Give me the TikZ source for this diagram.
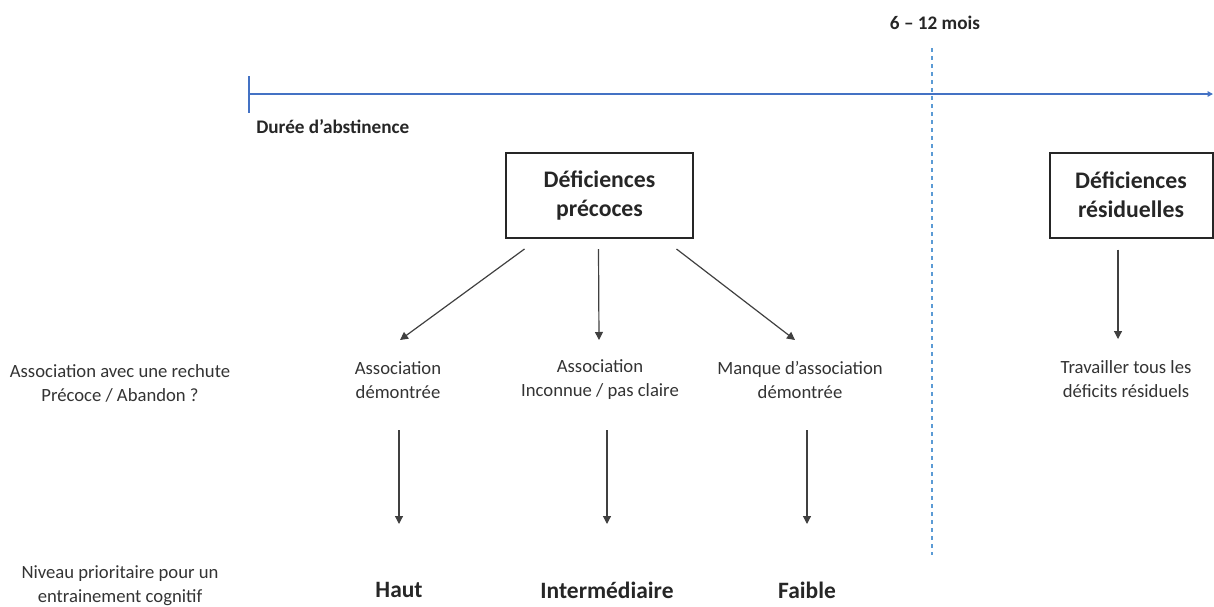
\documentclass[tikz,border=0pt]{standalone}
\usepackage{fontspec}
\setmainfont{Carlito}
\usetikzlibrary{arrows.meta,calc}

\definecolor{axeblue}{RGB}{68,114,196}
\definecolor{lightblue}{RGB}{91,155,213}

\begin{document}
\begin{tikzpicture}[x=0.75pt, y=-0.75pt,
	every node/.style={font=\fontsize{14}{18}\selectfont, text=black!80, align=center, inner sep=0pt},
	titre/.style={font=\fontsize{14.4}{17}\selectfont\bfseries, text=black!85},
	boite/.style={draw=black!85, line width=1.5pt, minimum height=63.75pt, font=\fontsize{17.8}{22}\selectfont\bfseries, text=black!85},
	niveau/.style={font=\fontsize{17.6}{21}\selectfont\bfseries, text=black!85},
	fleche/.style={-{Triangle[length=6pt,width=6pt]}, line width=0.9pt, draw=black!75}]
	\useasboundingbox (0,0) rectangle (1214,607);
	% axe du temps
	\coordinate (t0) at (249,94);
	\coordinate (t1) at (1213,94);
	\coordinate (d0) at (932,48);
	\coordinate (d1) at (932,555);
	\draw[axeblue, line width=1.3pt, -{Triangle[length=4pt,width=4pt]}] (t0) -- (t1);
	\draw[axeblue, line width=1pt] ($(t0)+(0,-18)$) -- ($(t0)+(0,19)$);
	\draw[lightblue, line width=0.8pt, dash pattern=on 3pt off 3pt] (d0) -- (d1);
	\node[titre] (mois) at (935,23) {6 – 12 mois};
	\node[titre, anchor=west] (duree) at (256,127) {Durée d’abstinence};
	% boites
	\node[boite, minimum width=140.25pt] (pre) at (599.5,195.5) {Déficiences\\précoces};
	\node[boite, minimum width=122.25pt] (res) at (1131,195) {Déficiences\\résiduelles};
	% association
	\node (q) at (120,383) {Association avec une rechute\\Précoce / Abandon ?};
	\node (a1) at (398,380) {Association\\démontrée};
	\node (a2) at (600,380) {Association\\Inconnue / pas claire};
	\node (a3) at (800,380) {Manque d’association\\démontrée};
	\node (a4) at (1126,379) {Travailler tous les\\déficits résiduels};
	% niveau
	\node (nv) at (120,586) {Niveau prioritaire pour un\\entrainement cognitif};
	\node[niveau] (n1) at (399,590) {Haut};
	\node[niveau] (n2) at (607,590) {Intermédiaire};
	\node[niveau] (n3) at (807,590) {Faible};
	\draw[fleche] ($(pre.south)+(-75,10)$) -- ($(a1)+(2,-40)$);
	\draw[fleche] ($(pre.south)+(-1,10)$) -- ($(a2)+(-1,-40)$);
	\draw[fleche] ($(pre.south)+(77,10)$) -- ($(a3)+(-5,-40)$);
	\draw[fleche] ($(res.south)+(-13,11)$) -- ($(a4)+(-8,-40)$);
	\foreach \n in {n1,n2,n3}
		\draw[fleche] ($(\n)+(0,-160)$) -- ($(\n)+(0,-66)$);
\end{tikzpicture}
\end{document}
